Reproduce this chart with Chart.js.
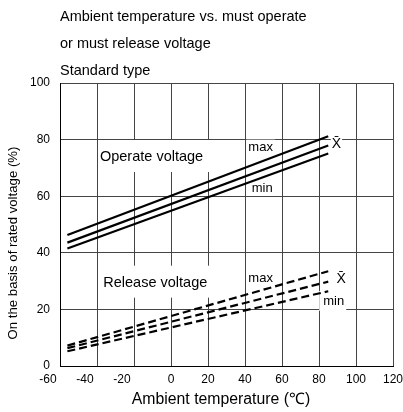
<!DOCTYPE html>
<html lang="en">
<head>
<meta charset="UTF-8">
<title>Ambient temperature vs. must operate or must release voltage</title>
<style>
  body { margin: 0; background: #fff; }
  #wrap { width: 403px; height: 412px; }
</style>
<script src="https://cdn.jsdelivr.net/npm/chart.js"></script>
</head>
<body>
<div id="wrap"><canvas id="chart" width="403" height="412"></canvas></div>
<script>
// values
const temps = [-56, 85];
const operateMax = [46.3, 81.2];
const operateAvg = [43.6, 77.9];
const operateMin = [41.5, 75.1];
const releaseMax = [7.2, 33.5];
const releaseAvg = [6.3, 29.8];
const releaseMin = [5.2, 26.4];

const xTicks = [-60, -40, -20, 0, 20, 40, 60, 80, 100, 120];
const yTicks = [0, 20, 40, 60, 80, 100];

const titleLines = ['Ambient temperature vs. must operate', 'or must release voltage', 'Standard type'];
const xTitle = 'Ambient temperature (\u2103)';
const yTitle = 'On the basis of rated voltage (%)';

const FONT = '"Liberation Sans", Arial, sans-serif';

// text notes inside the plot, placed in data units
const notes = [
  { text: 'Operate voltage', x: -38.4, y: 74.2, size: 14.5, padL: 1, padR: 9, h: 32 },
  { text: 'Release voltage', x: -36.6, y: 29.8, size: 14.5, padL: 4, padR: 5, h: 32 },
  { text: 'max', x: 41.8, y: 77.5, size: 13, padL: 2, padR: 2, h: 14 },
  { text: 'min', x: 43.6, y: 63.1, size: 13, padL: 2, padR: 2, h: 14 },
  { text: 'X\u0304', x: 86.9, y: 78.6, size: 14, padL: 1, padR: 1, h: 18 },
  { text: 'max', x: 41.8, y: 31.4, size: 13, padL: 2, padR: 2, h: 14 },
  { text: 'X\u0304', x: 89.4, y: 30.9, size: 14, padL: 1, padR: 1, h: 18 },
  { text: 'min', x: 82.3, y: 23.0, size: 13, padL: 4, padR: 2, h: 20 }
];

function toPoints(ys) {
  return temps.map((t, i) => ({ x: t, y: ys[i] }));
}

function series(label, ys, dashed) {
  return {
    label: label,
    data: toPoints(ys),
    showLine: true,
    borderColor: '#000',
    borderWidth: 2.2,
    borderDash: dashed ? [8, 4] : [],
    pointRadius: 0,
    fill: false
  };
}

const textPlugin = {
  id: 'textPlugin',
  beforeDatasetsDraw(chart) {
    const ctx = chart.ctx;
    const xs = chart.scales.x, ys = chart.scales.y;
    ctx.save();
    ctx.textAlign = 'left';
    ctx.textBaseline = 'middle';
    notes.forEach(n => {
      const px = xs.getPixelForValue(n.x);
      const py = ys.getPixelForValue(n.y);
      ctx.font = n.size + 'px ' + FONT;
      const w = ctx.measureText(n.text).width;
      ctx.fillStyle = '#fff';
      ctx.fillRect(px - n.padL, py - n.h / 2, w + n.padL + n.padR, n.h);
      ctx.fillStyle = '#000';
      ctx.fillText(n.text, px, py + 1);
    });
    ctx.restore();
  },
  afterDraw(chart) {
    const ctx = chart.ctx;
    const area = chart.chartArea;
    ctx.save();
    ctx.fillStyle = '#000';
    ctx.textBaseline = 'middle';
    ctx.textAlign = 'left';
    ctx.font = '14.5px ' + FONT;
    titleLines.forEach((t, i) => {
      ctx.fillText(t, area.left, 17 + i * 27);
    });
    ctx.textAlign = 'center';
    ctx.font = '15.8px ' + FONT;
    ctx.fillText(xTitle, 221, 400);
    ctx.translate(13, 243);
    ctx.rotate(-Math.PI / 2);
    ctx.font = '13.2px ' + FONT;
    ctx.fillText(yTitle, 0, 0);
    ctx.restore();
  }
};

new Chart(document.getElementById('chart'), {
  type: 'scatter',
  data: {
    datasets: [
      series('Operate max', operateMax, false),
      series('Operate mean', operateAvg, false),
      series('Operate min', operateMin, false),
      series('Release max', releaseMax, true),
      series('Release mean', releaseAvg, true),
      series('Release min', releaseMin, true)
    ]
  },
  options: {
    responsive: false,
    animation: false,
    devicePixelRatio: 1,
    layout: { padding: { top: 83, right: 10, left: 0, bottom: 0 } },
    plugins: {
      legend: { display: false },
      tooltip: { enabled: false }
    },
    scales: {
      x: {
        type: 'linear',
        min: xTicks[0],
        max: xTicks[xTicks.length - 1],
        afterFit(scale) {
          scale.height = 46;
          scale.paddingLeft = 0;
          scale.paddingRight = 0;
        },
        afterBuildTicks(scale) { scale.ticks = xTicks.map(v => ({ value: v })); },
        grid: { color: '#444', lineWidth: 1, drawTicks: false },
        border: { color: '#000', width: 1 },
        ticks: {
          padding: 6,
          color: '#000',
          autoSkip: false,
          font: { family: FONT, size: 12 },
          maxRotation: 0,
          callback: v => v < 0 ? v + '\u2003\u2003' : String(v)
        }
      },
      y: {
        type: 'linear',
        min: yTicks[0],
        max: yTicks[yTicks.length - 1],
        afterFit(scale) {
          scale.width = 60;
          scale.paddingTop = 0;
          scale.paddingBottom = 0;
        },
        afterBuildTicks(scale) { scale.ticks = yTicks.map(v => ({ value: v })); },
        grid: { color: '#444', lineWidth: 1, drawTicks: false },
        border: { color: '#000', width: 1 },
        ticks: {
          padding: 10,
          color: '#000',
          autoSkip: false,
          font: { family: FONT, size: 12 },
          callback: v => String(v)
        }
      }
    }
  },
  plugins: [textPlugin]
});
</script>
</body>
</html>
